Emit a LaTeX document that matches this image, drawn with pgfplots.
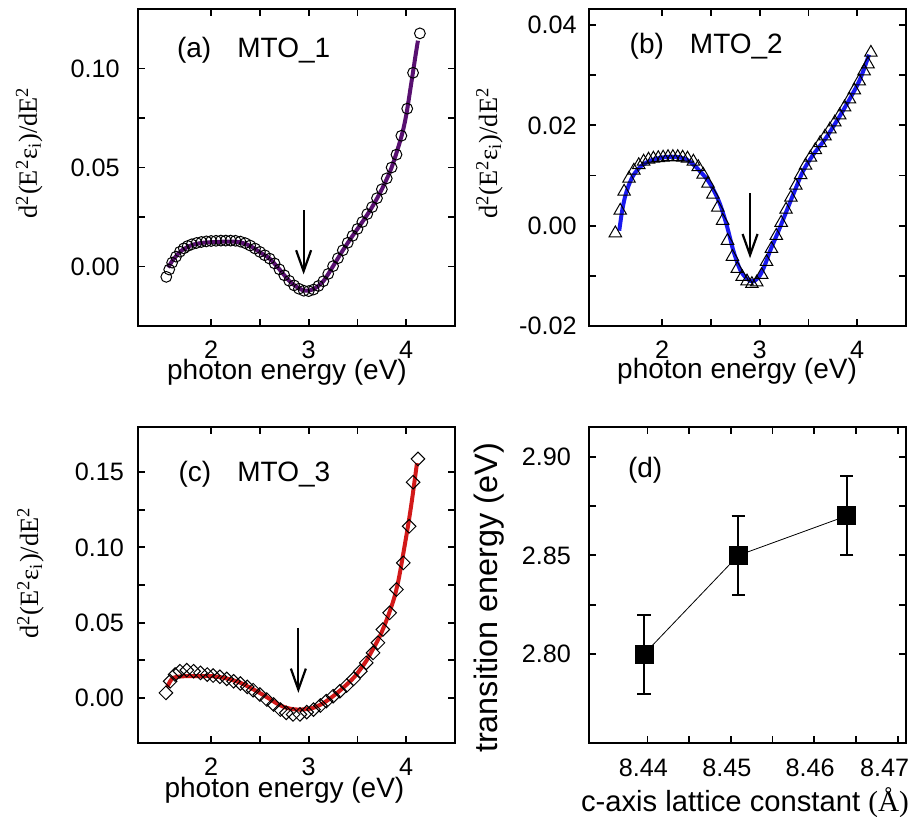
\documentclass[border=0pt]{standalone}
\usepackage{fontspec}
\setmainfont{Liberation Sans}
\newfontfamily\timesfont{Liberation Serif}
\usepackage{pgfplots}
\pgfplotsset{compat=1.18}
\usetikzlibrary{arrows.meta}

\definecolor{fitpurple}{RGB}{88,16,112}
\definecolor{fitblue}{RGB}{25,25,240}
\definecolor{fitred}{RGB}{210,25,25}

\newcommand\tickfont{\fontsize{12.6}{14}\selectfont}
\newcommand\labfont{\fontsize{14}{16}\selectfont}
\newcommand\ylabfont{\timesfont\fontsize{13.2}{15}\selectfont}

\tikzset{
  plab/.style={anchor=base west, font=\fontsize{14}{16}\selectfont},
  marr/.style={line width=1.1pt, -{Straight Barb[length=10.5pt,width=7.5pt]}},
}

\pgfplotsset{
  panel/.style={
    scale only axis, width=158.5pt, height=158.5pt, anchor=south west,
    axis line style={line width=1pt},
    every tick/.style={black, line width=0.9pt},
    major tick length=3.3pt, minor tick length=3.3pt,
    tick align=inside, tick pos=both,
    /pgf/number format/assume math mode=true,
    scaled ticks=false,
    xticklabel style={font=\tickfont, anchor=base, yshift=-16.5pt, inner sep=0pt},
    yticklabel style={font=\tickfont, anchor=east, inner sep=0pt},
  },
  twodig/.style={
    yticklabel style={/pgf/number format/fixed, /pgf/number format/fixed zerofill, /pgf/number format/precision=2},
  },
  spec/.style={
    twodig,
    xmin=1.25, xmax=4.5, xtick={2,3,4}, minor x tick num=1,
    xlabel={photon energy (eV)},
    ylabel={d\textsuperscript{2}(E\textsuperscript{2}ε\textsubscript{i})/dE\textsuperscript{2}},
    ylabel style={font=\ylabfont, anchor=base, inner sep=0pt},
    xlabel style={font=\labfont, anchor=base, inner sep=0pt},
  },
}

\begin{document}
\begin{tikzpicture}
\useasboundingbox (0,0) rectangle (460pt,408.5pt);

% ---------------- (a) ----------------
\begin{axis}[panel, spec, at={(69pt,245.5pt)},
  ymin=-0.03, ymax=0.13, ytick={0,0.05,0.10}, minor y tick num=1,
  yticklabel style={xshift=-9pt},
  ylabel style={at={(axis description cs:-0.319,0.547)}},
  xlabel style={at={(axis description cs:0.47,-0.17)}},
]
\addplot[only marks, mark=o, mark size=2.7pt, mark options={line width=0.5pt, black}] coordinates {
(1.54,-0.0052) (1.57,-0.0015) (1.60,0.0020) (1.64,0.0050) (1.68,0.0075) (1.72,0.0092)
(1.76,0.0104) (1.80,0.0112) (1.85,0.0119) (1.90,0.0124) (1.95,0.0127) (2.00,0.0129)
(2.05,0.0130) (2.10,0.0131) (2.15,0.0131) (2.20,0.0131) (2.25,0.0130) (2.30,0.0126)
(2.35,0.0118) (2.40,0.0106) (2.45,0.0091) (2.50,0.0074) (2.55,0.0057) (2.60,0.0040)
(2.65,0.0016) (2.70,-0.0014) (2.75,-0.0044) (2.80,-0.0072) (2.85,-0.0095) (2.90,-0.0112)
(2.95,-0.0122) (3.00,-0.0124) (3.05,-0.0116) (3.10,-0.0098) (3.15,-0.0074) (3.20,-0.0037)
(3.25,0.0002) (3.30,0.0042) (3.35,0.0082) (3.40,0.0120) (3.45,0.0155) (3.50,0.0190)
(3.55,0.0225) (3.60,0.0265) (3.65,0.0300) (3.70,0.0345) (3.75,0.0390) (3.80,0.0445)
(3.85,0.0500) (3.90,0.0565) (3.95,0.0660) (4.01,0.0797) (4.07,0.0978) (4.14,0.1177)
};
\addplot[fitpurple, line width=2pt, smooth] coordinates {
(1.56,-0.0005) (1.60,0.0028) (1.65,0.0058) (1.70,0.0082) (1.80,0.0108) (1.90,0.0119)
(2.00,0.0123) (2.10,0.0125) (2.20,0.0126) (2.30,0.0122) (2.40,0.0104) (2.50,0.0072)
(2.60,0.0040) (2.70,-0.0014) (2.80,-0.0072) (2.90,-0.0110) (2.97,-0.0122) (3.05,-0.0114)
(3.15,-0.0074) (3.25,0.0002) (3.35,0.0082) (3.45,0.0155) (3.55,0.0225) (3.65,0.0300)
(3.75,0.0390) (3.85,0.0500) (3.95,0.0655) (4.00,0.0765) (4.05,0.0920) (4.10,0.1080) (4.12,0.1140)
};
\draw[marr] (axis cs:2.948,0.0284) -- (axis cs:2.948,-0.0040);
\node[plab] at (rel axis cs:0.101,0.846) {(a)\hspace{0.93em}MTO\_1};
\end{axis}

% ---------------- (b) ----------------
\begin{axis}[panel, spec, at={(294.5pt,245.5pt)},
  ymin=-0.02, ymax=0.0432, ytick={-0.02,0,0.02,0.04}, minor y tick num=1,
  yticklabel style={xshift=-6pt},
  ylabel style={at={(axis description cs:-0.29,0.545)}},
  xlabel style={at={(axis description cs:0.467,-0.165)}},
]
\addplot[only marks, mark=triangle, mark size=3.6pt, mark options={line width=0.5pt, black}] coordinates {
(1.52,-0.0015) (1.57,0.0030) (1.61,0.0068) (1.66,0.0094) (1.71,0.0110) (1.76,0.0121)
(1.81,0.0128) (1.86,0.0132) (1.91,0.0134) (1.96,0.0135) (2.01,0.0136) (2.06,0.0137)
(2.11,0.0137) (2.16,0.0137) (2.21,0.0136) (2.26,0.0134) (2.32,0.0128) (2.37,0.0117)
(2.42,0.0102) (2.47,0.0084) (2.52,0.0062) (2.57,0.0036) (2.62,0.0010) (2.67,-0.0030)
(2.72,-0.0062) (2.77,-0.0086) (2.82,-0.0102) (2.87,-0.0111) (2.92,-0.0116) (2.97,-0.0113)
(3.02,-0.0098) (3.07,-0.0072) (3.12,-0.0046) (3.17,-0.0020) (3.22,0.0006) (3.27,0.0032)
(3.32,0.0056) (3.37,0.0080) (3.42,0.0101) (3.47,0.0120) (3.52,0.0136) (3.57,0.0151)
(3.62,0.0165) (3.67,0.0178) (3.72,0.0192) (3.77,0.0206) (3.82,0.0220) (3.87,0.0236)
(3.92,0.0252) (3.97,0.0270) (4.02,0.0288) (4.07,0.0308) (4.11,0.0322) (4.14,0.0345)
};
\addplot[fitblue, line width=2pt, smooth] coordinates {
(1.56,-0.0010) (1.59,0.0030) (1.62,0.0058) (1.66,0.0082) (1.71,0.0102) (1.78,0.0118)
(1.86,0.0128) (1.95,0.0134) (2.05,0.0137) (2.15,0.0137) (2.25,0.0132) (2.33,0.0120)
(2.40,0.0106) (2.47,0.0090) (2.53,0.0070) (2.595,0.0042) (2.663,0.0000) (2.73,-0.0050)
(2.80,-0.0088) (2.87,-0.0106) (2.935,-0.0111) (3.00,-0.0100) (3.05,-0.0080) (3.105,-0.0051)
(3.19,-0.0012) (3.275,0.0029) (3.36,0.0070) (3.445,0.0109) (3.55,0.0142) (3.68,0.0175)
(3.85,0.0228) (4.02,0.0288) (4.12,0.0341)
};
\draw[marr] (axis cs:2.901,0.0065) -- (axis cs:2.901,-0.0065);
\node[plab] at (rel axis cs:0.106,0.858) {(b)\hspace{0.93em}MTO\_2};
\end{axis}

% ---------------- (c) ----------------
\begin{axis}[panel, spec, at={(69pt,37pt)}, height=158pt,
  ymin=-0.03, ymax=0.18, ytick={0,0.05,0.10,0.15}, minor y tick num=1,
  yticklabel style={xshift=-6.8pt},
  ylabel style={at={(axis description cs:-0.315,0.538)}},
  xlabel style={at={(axis description cs:0.462,-0.171)}},
]
\addplot[only marks, mark=square, mark size=2.4pt, mark options={line width=0.5pt, black, rotate=45}] coordinates {
(1.536,0.0033) (1.58,0.0110) (1.63,0.0155) (1.68,0.0177) (1.75,0.0184) (1.82,0.0177)
(1.89,0.0166) (1.96,0.0155) (2.02,0.0148) (2.09,0.0140) (2.16,0.0126) (2.23,0.0110)
(2.30,0.0095) (2.37,0.0073) (2.43,0.0051) (2.50,0.0022) (2.57,-0.0011) (2.64,-0.0044)
(2.71,-0.0078) (2.77,-0.0100) (2.84,-0.0110) (2.91,-0.0110) (2.98,-0.0095) (3.05,-0.0078)
(3.12,-0.0051) (3.18,-0.0022) (3.25,0.0011) (3.32,0.0044) (3.39,0.0082) (3.46,0.0126)
(3.53,0.0177) (3.59,0.0233) (3.66,0.0299) (3.71,0.0366) (3.76,0.0454) (3.83,0.0565)
(3.90,0.0720) (3.97,0.0897) (4.03,0.1140) (4.07,0.1433) (4.12,0.1588)
};
\addplot[fitred, line width=2pt, smooth] coordinates {
(1.55,0.0073) (1.58,0.0110) (1.61,0.0133) (1.68,0.0142) (1.75,0.0144) (1.90,0.0145)
(2.02,0.0144) (2.15,0.0130) (2.30,0.0100) (2.45,0.0050) (2.57,0.0005) (2.68,-0.0040)
(2.77,-0.0066) (2.85,-0.0076) (2.91,-0.0078) (2.98,-0.0075) (3.05,-0.0066) (3.15,-0.0035)
(3.25,0.0011) (3.35,0.0065) (3.46,0.0133) (3.53,0.0190) (3.59,0.0245) (3.66,0.0325)
(3.73,0.0410) (3.80,0.0520) (3.87,0.0650) (3.92,0.0780) (3.97,0.0960) (4.02,0.1150)
(4.06,0.1320) (4.11,0.1560)
};
\draw[marr] (axis cs:2.894,0.0465) -- (axis cs:2.894,0.0033);
\node[plab] at (rel axis cs:0.106,0.827) {(c)\hspace{0.93em}MTO\_3};
\end{axis}

% ---------------- (d) ----------------
\begin{axis}[panel, twodig, at={(294.5pt,37pt)}, height=158pt,
  xmin=8.433, xmax=8.471, ymin=2.755, ymax=2.915,
  xtick={8.44,8.45,8.46,8.47}, minor x tick num=1,
  xticklabels={8.44,8.45,8.46,\hspace*{-9pt}8.47},
  ytick={2.80,2.85,2.90}, minor y tick num=1,
  xticklabel style={font=\tickfont, yshift=-0.5pt, xshift=-2pt},
  yticklabel style={font=\tickfont, xshift=-8.8pt},
  xlabel={c-axis lattice constant {\timesfont(Å)}},
  ylabel={transition energy (eV)},
  xlabel style={font=\fontsize{14.6}{16}\selectfont, at={(axis description cs:0.492,-0.218)}, anchor=base, inner sep=0pt},
  ylabel style={font=\fontsize{16.2}{18}\selectfont, at={(axis description cs:-0.29,0.459)}, anchor=base, inner sep=0pt},
]
\addplot[black, line width=0.4pt, mark=square*, mark size=4.5pt,
  error bars/.cd, y dir=both, y explicit,
  error bar style={line width=1pt},
  error mark options={rotate=90, mark size=3.3pt, line width=1pt}]
coordinates {
(8.4396,2.80) +- (0,0.02)
(8.4509,2.85) +- (0,0.02)
(8.4639,2.87) +- (0,0.02)
};
\node[plab] at (rel axis cs:0.101,0.839) {(d)};
\end{axis}
\end{tikzpicture}
\end{document}
